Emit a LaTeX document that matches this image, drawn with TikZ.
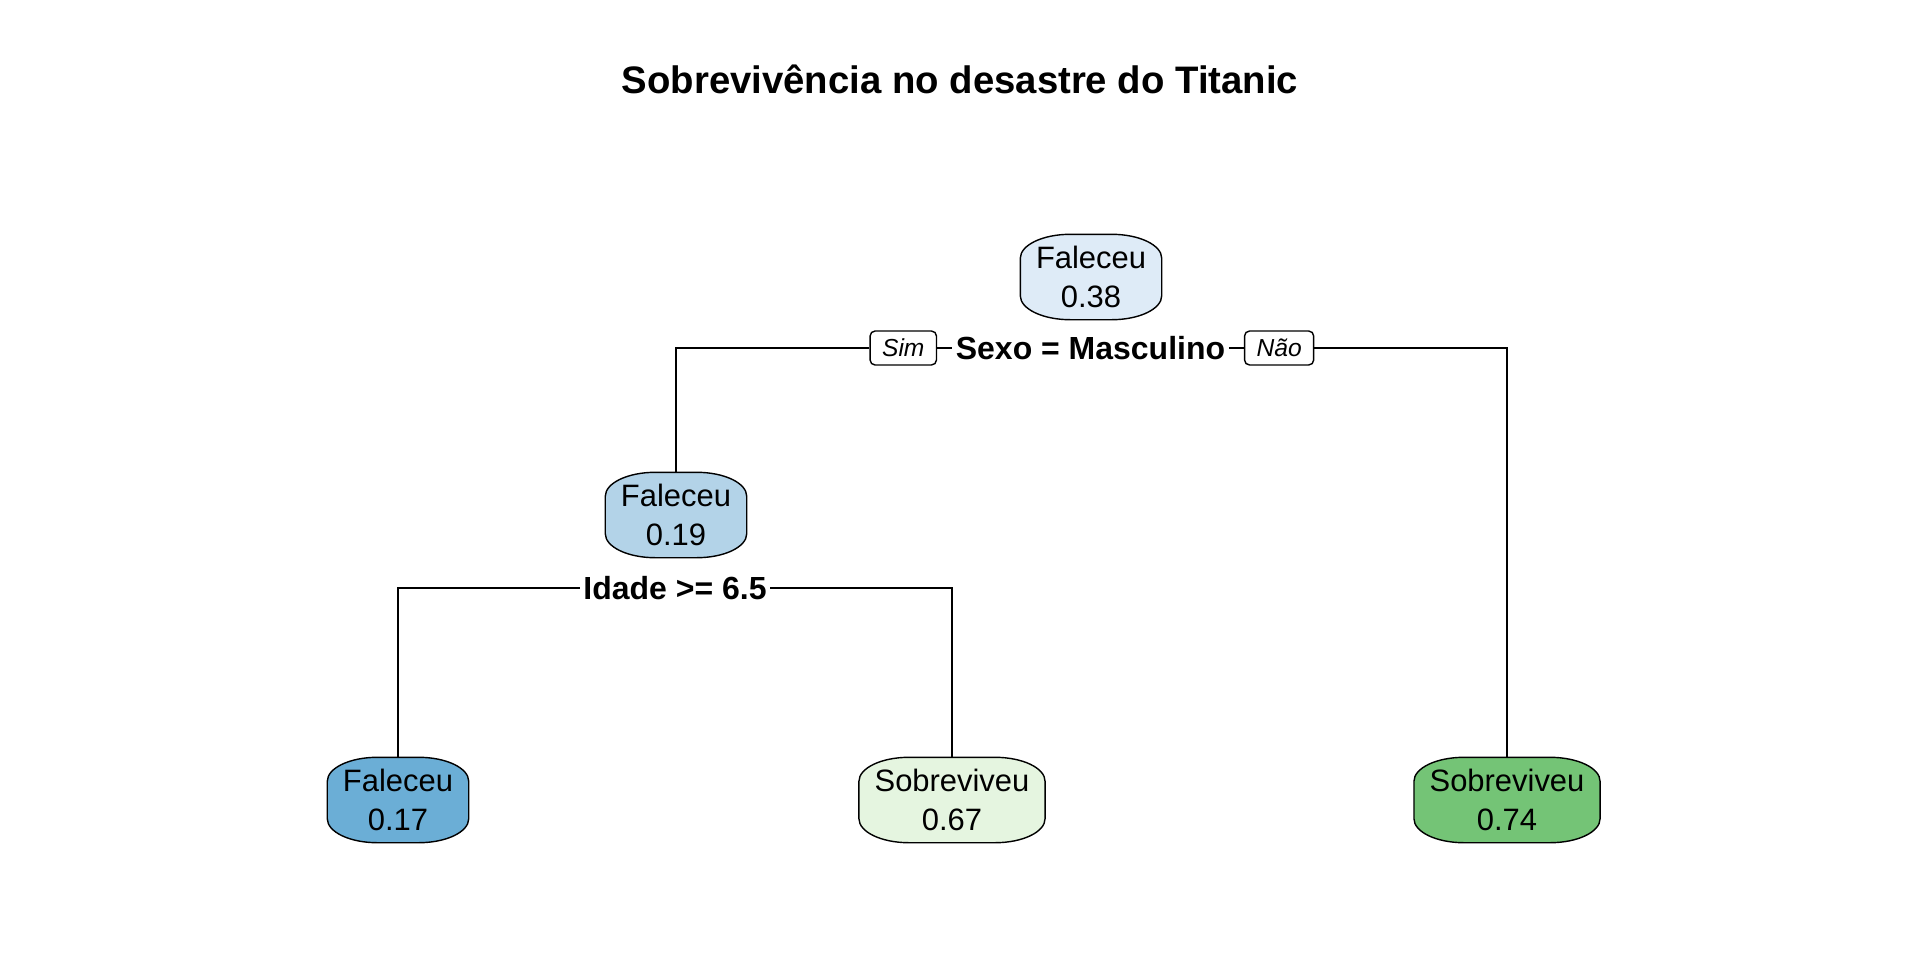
\documentclass[tikz,border=0pt]{standalone}
\usepackage{fontspec}
\setmainfont{Liberation Sans}
\usetikzlibrary{positioning,backgrounds}
\definecolor{blue0}{HTML}{DEEBF7}
\definecolor{blue1}{HTML}{B3D3E8}
\definecolor{blue2}{HTML}{6BAED6}
\definecolor{green0}{HTML}{E5F5E0}
\definecolor{green1}{HTML}{74C476}
\tikzset{
  >=latex,
  line width=0.55pt,
}
\tikzstyle{tnode}=[align=center,inner xsep=0.15cm,inner ysep=0pt,minimum height=0.84cm,
  font=\fontsize{8.8}{11.1}\selectfont]
\tikzstyle{split}=[inner sep=0.03cm,font=\fontsize{9.1}{11}\selectfont\bfseries]
\tikzstyle{lbl}=[draw,rounded corners=0.05cm,inner xsep=0.12cm,inner ysep=0pt,
  minimum height=0.34cm,font=\fontsize{7}{8}\selectfont\itshape]
% node outline: straight sides, curved top and bottom
\newcommand{\barrx}{0.5cm}
\newcommand{\barry}{0.24cm}
\newcommand{\barrel}[2]{%
  \filldraw[fill=#2] ([yshift=-\barry]#1.north west)
    arc[start angle=180,end angle=90,x radius=\barrx,y radius=\barry]
    -- ([xshift=-\barrx]#1.north east)
    arc[start angle=90,end angle=0,x radius=\barrx,y radius=\barry]
    -- ([yshift=\barry]#1.south east)
    arc[start angle=0,end angle=-90,x radius=\barrx,y radius=\barry]
    -- ([xshift=\barrx]#1.south west)
    arc[start angle=270,end angle=180,x radius=\barrx,y radius=\barry]
    -- cycle;}

\begin{document}
\begin{tikzpicture}
    \useasboundingbox (0,0) rectangle (19.2,9.6);
    \node[anchor=base,font=\fontsize{10.9}{13}\selectfont\bfseries] (title) at (9.6,8.67)
      {Sobrevivência no desastre do Titanic};
    % tree nodes
    \node[tnode] (root) at (10.91,6.83) {Faleceu\\0.38};
    \node[tnode] (n2) at (6.76,4.45) {Faleceu\\0.19};
    \node[tnode] (leaf1) at (3.98,1.60) {Faleceu\\0.17};
    \node[tnode] (leaf2) at (9.52,1.60) {Sobreviveu\\0.67};
    \node[tnode] (leaf3) at (15.07,1.60) {Sobreviveu\\0.74};
    \begin{scope}[on background layer]
      \foreach \n/\c in {root/blue0,n2/blue1,leaf1/blue2,leaf2/green0,leaf3/green1}
        {\barrel{\n}{\c}}
    \end{scope}
    % splits
    \node[split] (sexo) at (10.905,6.12) {Sexo = Masculino};
    \node[lbl,left=0.15cm of sexo] (sim) {Sim};
    \node[lbl,right=0.15cm of sexo] (nao) {Não};
    \node[split] (idade) at (6.75,3.72) {Idade >= 6.5};
    \draw (sim) -- (sexo) (sexo) -- (nao);
    \draw (sim.west) -| (n2.north);
    \draw (nao.east) -| (leaf3.north);
    \draw (idade.west) -| (leaf1.north);
    \draw (idade.east) -| (leaf2.north);
  \end{tikzpicture}
\end{document}
